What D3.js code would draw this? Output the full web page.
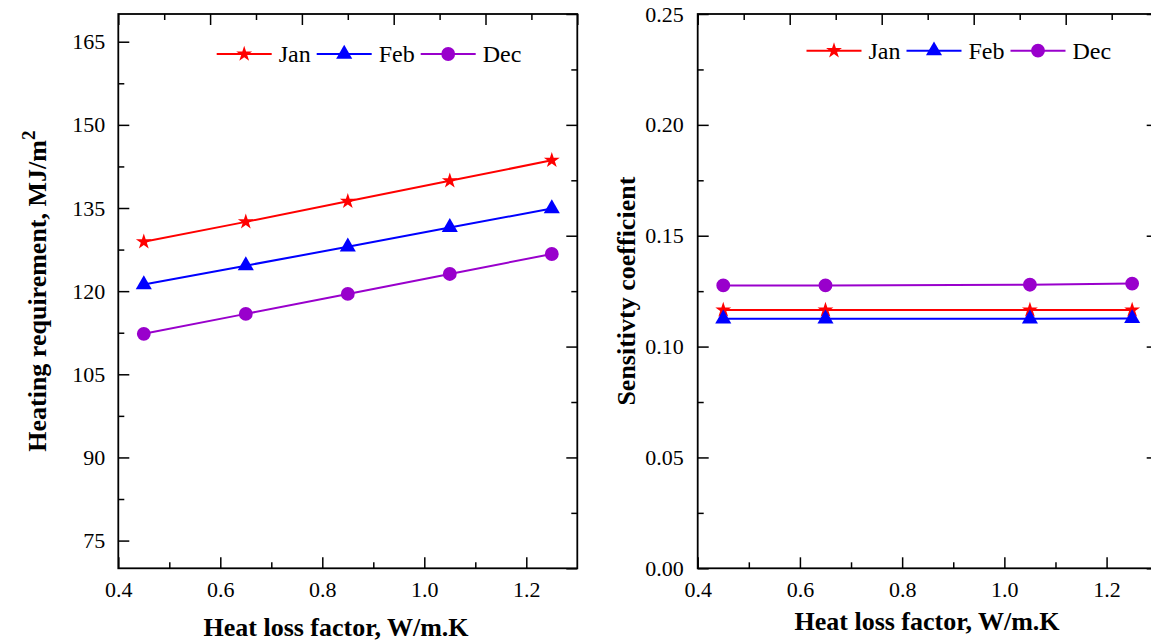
<!DOCTYPE html>
<html>
<head>
<meta charset="utf-8">
<script src="https://cdn.jsdelivr.net/npm/d3@7"></script>
<style>
  body { margin: 0; background: #fff; }
  svg { display: block; }
  text { font-family: "Liberation Serif", "Times New Roman", Times, serif; fill: #000; }
</style>
</head>
<body>
<svg id="chart" width="1151" height="642"></svg>
<script>
// Heat loss factor (W/m.K) used for the heating requirement runs
const lossFactor = [0.45, 0.65, 0.85, 1.05, 1.25];
// Heating requirement, MJ/m2
const heatJan = [128.9, 132.5, 136.2, 139.9, 143.6];
const heatFeb = [121.2, 124.6, 128.0, 131.5, 134.9];
const heatDec = [112.3, 115.9, 119.5, 123.1, 126.7];

// Heat loss factor values used for the sensitivity coefficient
const sensFactor = [0.45, 0.65, 1.05, 1.25];
const sensJan = [0.1165, 0.1165, 0.1165, 0.1165];
const sensFeb = [0.1125, 0.1125, 0.1125, 0.1127];
const sensDec = [0.1276, 0.1276, 0.1279, 0.1284];

const seriesNames = ["Jan", "Feb", "Dec"];

// Tick labels
const factorTicks = [0.4, 0.6, 0.8, 1.0, 1.2];
const factorMinor = [0.5, 0.7, 0.9, 1.1];
const heatTicks = [75, 90, 105, 120, 135, 150, 165];
const heatMinor = [82.5, 97.5, 112.5, 127.5, 142.5, 157.5];
const sensTicks = [0.00, 0.05, 0.10, 0.15, 0.20, 0.25];
const sensMinor = [0.025, 0.075, 0.125, 0.175, 0.225];

// Series styling
const seriesColor = { Jan: "#ff0000", Feb: "#0000ff", Dec: "#9900cc" };
const seriesSymbol = { Jan: d3.symbolStar, Feb: d3.symbolTriangle, Dec: d3.symbolCircle };
const symbolArea = { Jan: 78, Feb: 112, Dec: 150 };

const svg = d3.select("#chart");
const SERIF = '"Liberation Serif", "Times New Roman", Times, serif';
const TICK_FONT = 22, TITLE_FONT = 26, LEGEND_FONT = 24;
const MAJOR = 11, MINOR = 6;

function styleAxis(sel) {
  sel.select(".domain").remove();
  sel.selectAll("line").attr("stroke", "#000").attr("stroke-width", 1.5);
  sel.selectAll("text")
    .attr("font-family", SERIF)
    .attr("font-size", TICK_FONT).attr("fill", "#000");
  sel.attr("font-family", null).attr("font-size", null);
}

function drawPanel(p) {
  const g = svg.append("g");
  const bottom = p.top + p.height, right = p.left + p.width;
  const x = d3.scaleLinear().domain([0.4, 1.3]).range([p.left, right]);
  const y = d3.scaleLinear().domain(p.yDomain).range([bottom, p.top]);
  // top and right edges carry ten equal divisions
  const mx = d3.scaleLinear().domain([0, 10]).range([p.left, right]);
  const my = d3.scaleLinear().domain([0, 10]).range([bottom, p.top]);
  const even = d3.range(0, 11, 2), odd = d3.range(1, 10, 2);

  // bottom axis
  g.append("g").attr("transform", `translate(0,${bottom})`)
    .call(d3.axisBottom(x).tickValues(factorTicks).tickSizeInner(-MAJOR).tickSizeOuter(0)
      .tickPadding(13).tickFormat(d3.format(".1f"))).call(styleAxis);
  g.append("g").attr("transform", `translate(0,${bottom})`)
    .call(d3.axisBottom(x).tickValues(factorMinor).tickSizeInner(-MINOR).tickSizeOuter(0)
      .tickFormat("")).call(styleAxis);
  // left axis
  g.append("g").attr("transform", `translate(${p.left},0)`)
    .call(d3.axisLeft(y).tickValues(p.yTicks).tickSizeInner(-MAJOR).tickSizeOuter(0)
      .tickPadding(p.yPad).tickFormat(p.yFormat)).call(styleAxis);
  g.append("g").attr("transform", `translate(${p.left},0)`)
    .call(d3.axisLeft(y).tickValues(p.yMinor).tickSizeInner(-MINOR).tickSizeOuter(0)
      .tickFormat("")).call(styleAxis);
  // top axis
  g.append("g").attr("transform", `translate(0,${p.top})`)
    .call(d3.axisTop(mx).tickValues(even).tickSizeInner(-MAJOR).tickSizeOuter(0).tickFormat(""))
    .call(styleAxis);
  g.append("g").attr("transform", `translate(0,${p.top})`)
    .call(d3.axisTop(mx).tickValues(odd).tickSizeInner(-MINOR).tickSizeOuter(0).tickFormat(""))
    .call(styleAxis);
  // right axis
  g.append("g").attr("transform", `translate(${right},0)`)
    .call(d3.axisRight(my).tickValues(even).tickSizeInner(-MAJOR).tickSizeOuter(0).tickFormat(""))
    .call(styleAxis);
  g.append("g").attr("transform", `translate(${right},0)`)
    .call(d3.axisRight(my).tickValues(odd).tickSizeInner(-MINOR).tickSizeOuter(0).tickFormat(""))
    .call(styleAxis);

  // frame
  g.append("rect").attr("x", p.left).attr("y", p.top)
    .attr("width", p.width).attr("height", p.height)
    .attr("fill", "none").attr("stroke", "#000").attr("stroke-width", 1.8);

  // series
  const line = d3.line().x(d => x(d[0])).y(d => y(d[1]));
  p.series.forEach(s => {
    const pts = p.xs.map((v, i) => [v, s.values[i]]);
    g.append("path").datum(pts).attr("d", line)
      .attr("fill", "none").attr("stroke", seriesColor[s.name]).attr("stroke-width", 2);
  });
  p.series.forEach(s => {
    const pts = p.xs.map((v, i) => [v, s.values[i]]);
    g.selectAll(null).data(pts).join("path")
      .attr("transform", d => `translate(${x(d[0])},${y(d[1])})`)
      .attr("d", d3.symbol(seriesSymbol[s.name], symbolArea[s.name]))
      .attr("fill", seriesColor[s.name]);
  });

  // legend
  let lx = p.legendX;
  seriesNames.forEach(name => {
    const c = seriesColor[name];
    g.append("line").attr("x1", lx).attr("x2", lx + 55)
      .attr("y1", p.legendY).attr("y2", p.legendY)
      .attr("stroke", c).attr("stroke-width", 2);
    g.append("path").attr("transform", `translate(${lx + 27.5},${p.legendY})`)
      .attr("d", d3.symbol(seriesSymbol[name], symbolArea[name])).attr("fill", c);
    const t = g.append("text").attr("x", lx + 62).attr("y", p.legendY + 8)
      .attr("font-family", SERIF).attr("font-size", LEGEND_FONT).text(name);
    lx += 62 + t.node().getComputedTextLength() + 6;
  });

  // x title
  g.append("text").attr("x", p.xTitleX).attr("y", p.xTitleY)
    .attr("text-anchor", "middle").attr("font-weight", "bold")
    .attr("font-family", SERIF).attr("font-size", TITLE_FONT).text("Heat loss factor, W/m.K");

  // y title
  const yt = g.append("text")
    .attr("transform", `translate(${p.yTitleX},${p.top + p.height / 2}) rotate(-90)`)
    .attr("text-anchor", "middle").attr("dy", "0.35em")
    .attr("font-family", SERIF).attr("font-weight", "bold").attr("font-size", TITLE_FONT);
  yt.append("tspan").text(p.yTitle);
  if (p.yTitleSup) {
    yt.append("tspan").attr("dy", -11).attr("font-size", 19).text(p.yTitleSup);
  }
}

drawPanel({
  left: 118.3, top: 14, width: 459, height: 554.3,
  yDomain: [70, 170], yTicks: heatTicks, yMinor: heatMinor, yFormat: d3.format("d"), yPad: 13,
  xs: lossFactor,
  series: [{ name: "Jan", values: heatJan }, { name: "Feb", values: heatFeb }, { name: "Dec", values: heatDec }],
  legendX: 216.7, legendY: 54,
  xTitleX: 336, xTitleY: 636,
  yTitleX: 37, yTitle: "Heating requirement, MJ/m", yTitleSup: "2"
});

drawPanel({
  left: 697.7, top: 14, width: 460, height: 554.3,
  yDomain: [0, 0.25], yTicks: sensTicks, yMinor: sensMinor, yFormat: d3.format(".2f"), yPad: 14,
  xs: sensFactor,
  series: [{ name: "Jan", values: sensJan }, { name: "Feb", values: sensFeb }, { name: "Dec", values: sensDec }],
  legendX: 806.5, legendY: 50.7,
  xTitleX: 927, xTitleY: 630,
  yTitleX: 625.5, yTitle: "Sensitivty coefficient"
});
</script>
</body>
</html>
